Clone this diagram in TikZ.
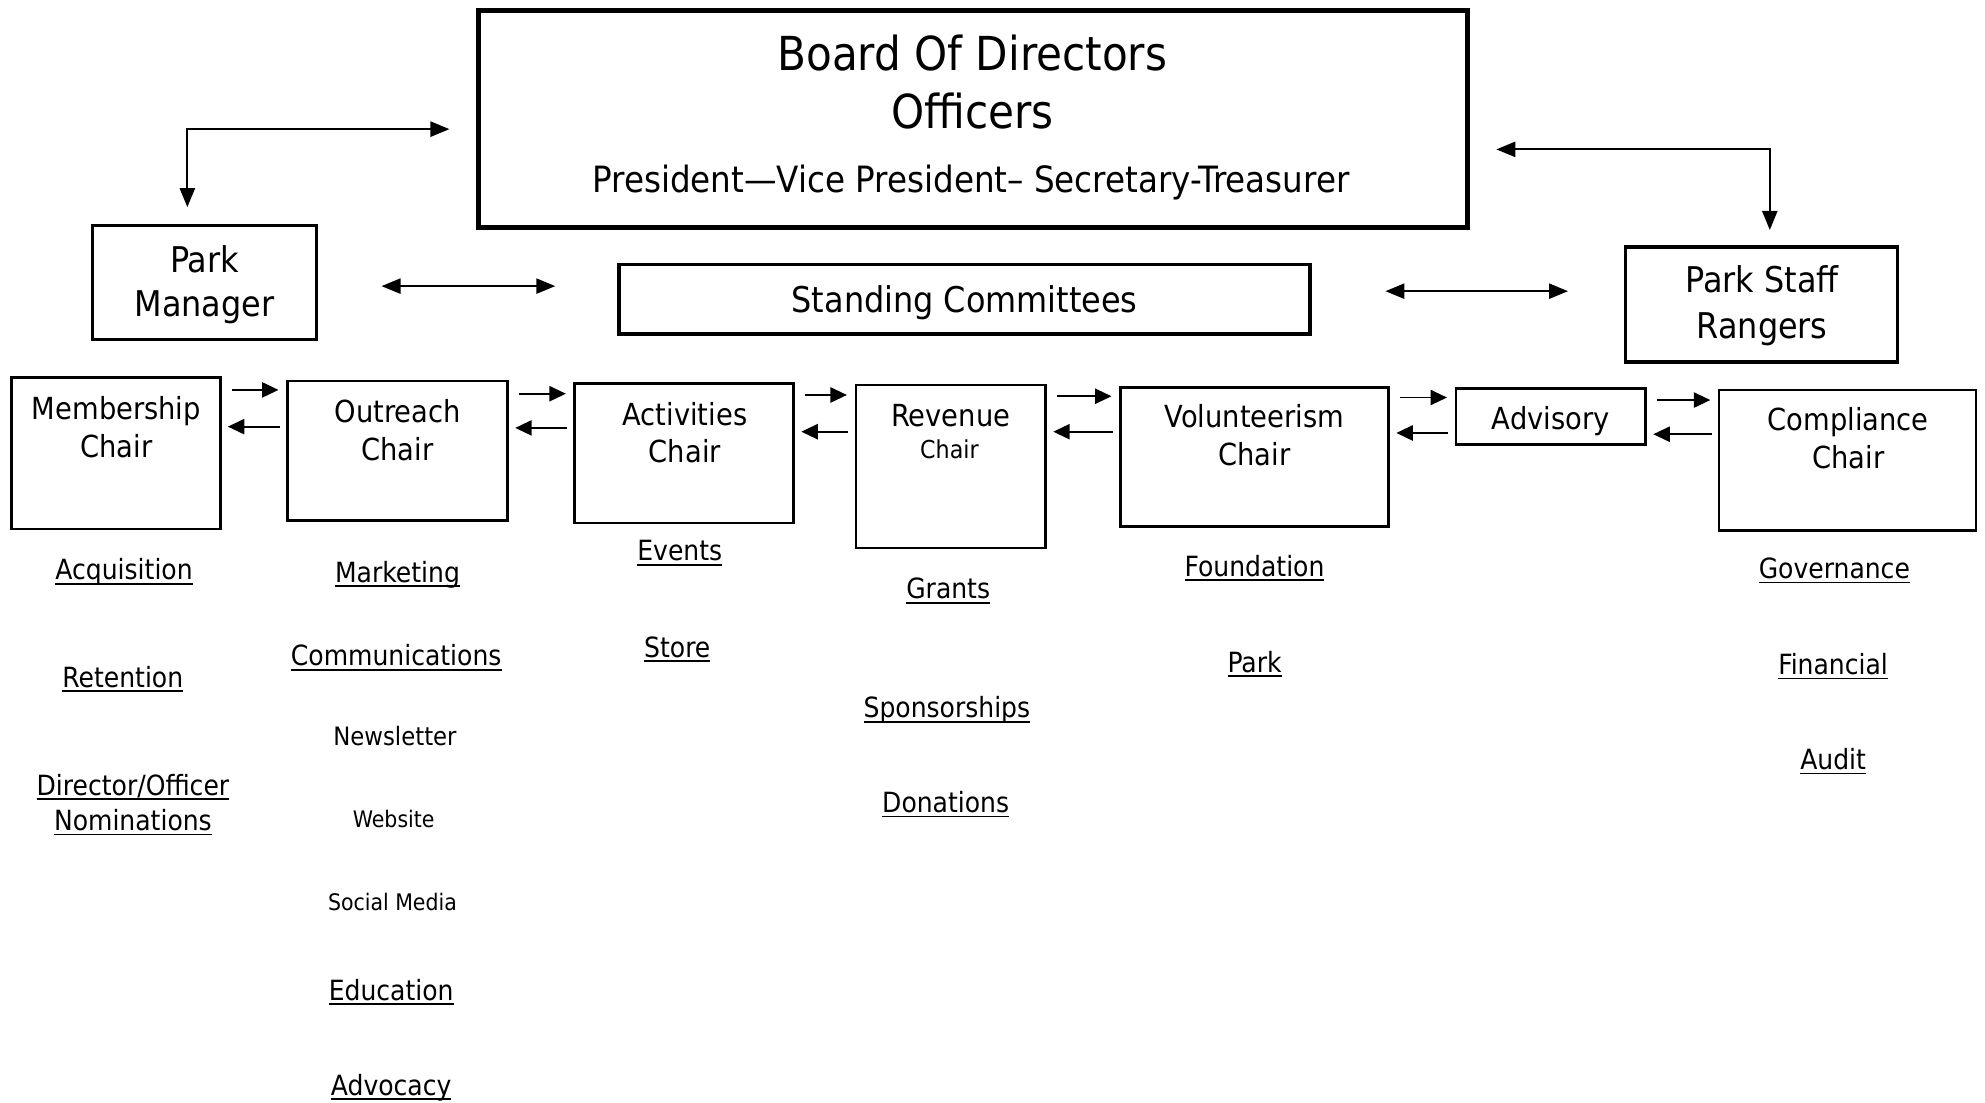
\documentclass[tikz,border=0pt]{standalone}
\usepackage{fontspec}
\setmainfont{DejaVu Sans Condensed}
\usetikzlibrary{arrows.meta}

\newcommand{\fs}[1]{\fontsize{#1}{1.2\dimexpr#1pt\relax}\selectfont}
\newcommand{\undl}[1]{\setbox0\hbox{#1}\rlap{\rule[-0.17em]{\wd0}{0.06em}}\box0}

\tikzset{every picture/.style={line width=1.5pt}}
\tikzset{
  boardbox/.style={draw, line width=4pt, inner sep=0pt},
  topbox/.style={draw, line width=2.8pt, inner sep=0pt},
  chairbox/.style={draw, line width=2pt, inner sep=0pt},
  txt/.style={inner sep=0.75pt, anchor=base, align=center},
  dbl/.style={{Triangle[length=15pt,width=12pt]}-{Triangle[length=15pt,width=12pt]}},
  one/.style={-{Triangle[length=13pt,width=12pt]}}
}

\begin{document}
\begin{tikzpicture}[x=1pt,y=1pt,yscale=-1,xscale=1]
\useasboundingbox (0,0) rectangle (1568,871);

%Shape: Rectangle [board]
\node [boardbox, minimum width=781pt, minimum height=172pt] (board) at (768.5,94) {};
%Shape: Rectangle [park manager]
\node [topbox, minimum width=177pt, minimum height=90pt] (pm) at (161.5,223) {};
%Shape: Rectangle [park staff]
\node [topbox, minimum width=215pt, minimum height=91pt] (staff) at (1391.5,240.5) {};
%Shape: Rectangle [standing committees]
\node [topbox, minimum width=546pt, minimum height=55pt] (stand) at (762,236.5) {};

%Shape: Rectangle [chairs]
\node [chairbox, minimum width=165pt, minimum height=120pt] (mem) at (91.5,358) {};
\node [chairbox, minimum width=174pt, minimum height=110pt] (out) at (314,356) {};
\node [chairbox, minimum width=173pt, minimum height=110pt] (act) at (540.5,358) {};
\node [chairbox, minimum width=150pt, minimum height=129pt] (rev) at (751,368.5) {};
\node [chairbox, minimum width=212pt, minimum height=110pt] (vol) at (991,361) {};
\node [chairbox, minimum width=150pt, minimum height=44pt] (adv) at (1225,329) {};
\node [chairbox, minimum width=203pt, minimum height=111pt] (comp) at (1459.5,363.5) {};

% Text Node
\node [txt, font=\fs{37}] (boardtitle) at (768,55.5) {Board Of Directors};
\node [txt, font=\fs{37}] (officers) at (768,101.5) {Officers};
\node [txt, font=\fs{28.6}] (officerlist) at (767,152) {President—Vice President– Secretary-Treasurer};
\node [txt, font=\fs{28}] (standtxt) at (762,247) {Standing Committees};
\node [txt, font=\fs{28}] (pmtxt) at (161.5,215) {Park};
\node [txt, font=\fs{28}] (pmtxtb) at (161.5,250) {Manager};
\node [txt, font=\fs{28}] (stafftxt) at (1392,231) {Park Staff};
\node [txt, font=\fs{28}] (stafftxtb) at (1392,267) {Rangers};

% Text Node
\node [txt, font=\fs{24}] (memtxt) at (92,331) {Membership};
\node [txt, font=\fs{24}] (memtxtb) at (92,361) {Chair};
\node [txt, font=\fs{24}] (outtxt) at (314,334) {Outreach};
\node [txt, font=\fs{24}] (outtxtb) at (314,364) {Chair};
\node [txt, font=\fs{24}] (acttxt) at (541,336) {Activities};
\node [txt, font=\fs{24}] (acttxtb) at (541,365) {Chair};
\node [txt, font=\fs{24}] (revtxt) at (751,337) {Revenue};
\node [txt, font=\fs{19.5}] (revtxtb) at (750,362) {Chair};
\node [txt, font=\fs{24}] (voltxt) at (991,338) {Volunteerism};
\node [txt, font=\fs{24}] (voltxtb) at (991,368) {Chair};
\node [txt, font=\fs{24}] (advtxt) at (1225,339) {Advisory};
\node [txt, font=\fs{24}] (comptxt) at (1460,340) {Compliance};
\node [txt, font=\fs{24}] (comptxtb) at (1460,370) {Chair};

% Text Node
\node [txt, font=\fs{22}] (acq) at (98,458) {\undl{Acquisition}};
\node [txt, font=\fs{22}] (ret) at (97,543) {\undl{Retention}};
\node [txt, font=\fs{22}] (dir) at (105,628) {\undl{Director/Officer}};
\node [txt, font=\fs{22}] (nom) at (105,656) {\undl{Nominations}};
\node [txt, font=\fs{22}] (mkt) at (314,460) {\undl{Marketing}};
\node [txt, font=\fs{22}] (comm) at (313,526) {\undl{Communications}};
\node [txt, font=\fs{20}] (news) at (312,589) {Newsletter};
\node [txt, font=\fs{18}] (web) at (311,653.5) {Website};
\node [txt, font=\fs{18}] (social) at (310,719.5) {Social Media};
\node [txt, font=\fs{22}] (edu) at (309,790) {\undl{Education}};
\node [txt, font=\fs{22}] (advo) at (309,865) {\undl{Advocacy}};
\node [txt, font=\fs{22}] (evt) at (537,443) {\undl{Events}};
\node [txt, font=\fs{22}] (store) at (535,519) {\undl{Store}};
\node [txt, font=\fs{22}] (grant) at (749,473) {\undl{Grants}};
\node [txt, font=\fs{22}] (spons) at (748,567) {\undl{Sponsorships}};
\node [txt, font=\fs{22}] (don) at (747,642) {\undl{Donations}};
\node [txt, font=\fs{22}] (found) at (991,455) {\undl{Foundation}};
\node [txt, font=\fs{22}] (park) at (991,531) {\undl{Park}};
\node [txt, font=\fs{22}] (gov) at (1449,457) {\undl{Governance}};
\node [txt, font=\fs{22}] (fin) at (1448,533) {\undl{Financial}};
\node [txt, font=\fs{22}] (aud) at (1448,608) {\undl{Audit}};

%Straight Lines [board links]
\draw [dbl] ([shift={(-21,8)}]board.west) -| ([shift={(-13.5,-13)}]pm.north);
\draw [dbl] ([shift={(21,24)}]board.east) -| ([shift={(6.5,-12)}]staff.north);
\draw [dbl] ([shift={(50,3)}]pm.east) -- ([shift={(-49,-10.5)}]stand.west);
\draw [dbl] ([shift={(58,-6.5)}]stand.east) -- ([shift={(-44,-10.5)}]staff.west);

%Straight Lines [chair links]
\foreach \a/\b/\ry/\ly in {mem/out/308/337, out/act/311/338, act/rev/312/341, rev/vol/313/341, vol/adv/314/342, adv/comp/316/343}{
  \draw [one] ([xshift=8pt]\a.east |- 0,\ry) -- ([xshift=-6pt]\b.west |- 0,\ry);
  \draw [one] ([xshift=-5pt]\b.west |- 0,\ly) -- ([xshift=5pt]\a.east |- 0,\ly);
}

\end{tikzpicture}
\end{document}
